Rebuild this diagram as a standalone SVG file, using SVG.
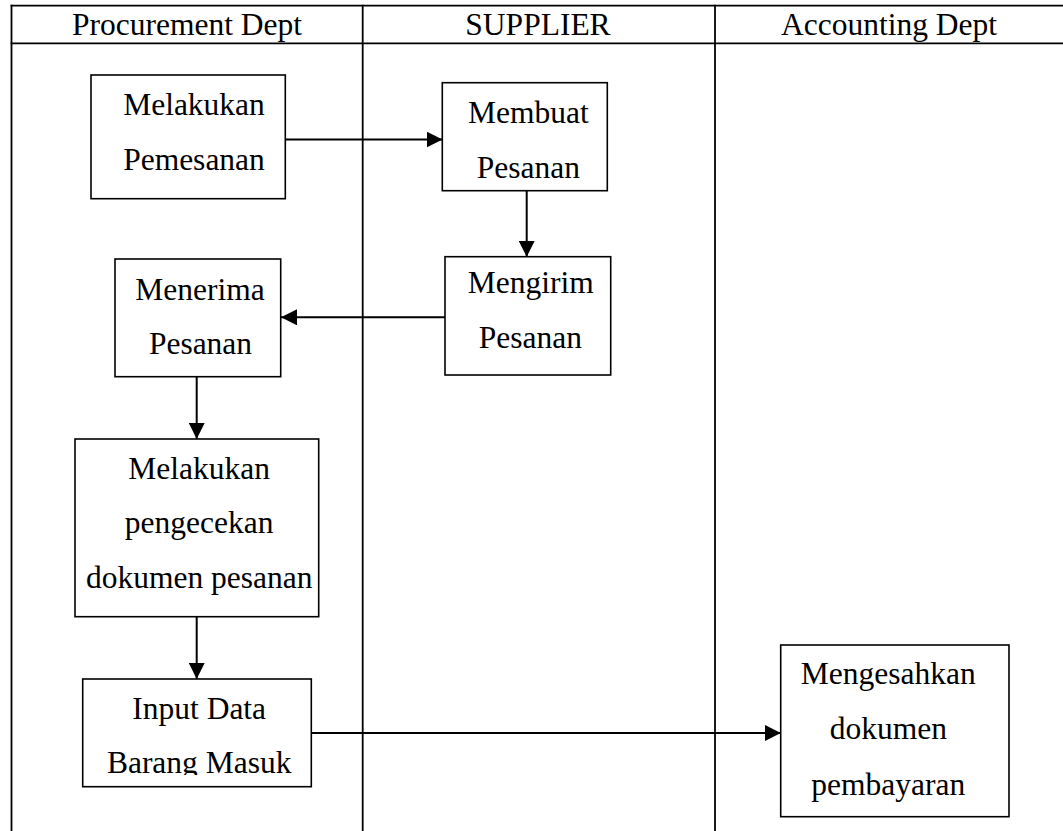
<svg xmlns="http://www.w3.org/2000/svg" width="1063" height="831" viewBox="0 0 1063 831">
  <style>
    .lane { stroke: #000; stroke-width: 1.8; fill: none; }
    .box { fill: #fff; stroke: #000; stroke-width: 1.6; }
    .conn { stroke: #000; stroke-width: 2; fill: none; }
    text { font-family: "Liberation Serif", "Times New Roman", serif; font-size: 31.5px; fill: #000; text-anchor: middle; }
  </style>
  <defs>
    <marker id="arrow" viewBox="0 0 16 16" refX="16" refY="8" markerWidth="16" markerHeight="16" markerUnits="userSpaceOnUse" orient="auto">
      <path d="M0,0 L16,8 L0,16 z" fill="#000"/>
    </marker>
    <clipPath id="clip6">
      <rect x="83" y="679" width="228" height="96"/>
    </clipPath>
  </defs>
  <rect width="1063" height="831" fill="#fff"/>

  <g id="lanes">
    <line class="lane" x1="10.6" y1="5.7" x2="1063" y2="5.7"/>
    <line class="lane" x1="10.6" y1="43.3" x2="1063" y2="43.3"/>
    <line class="lane" x1="11.5" y1="4.8" x2="11.5" y2="831"/>
    <line class="lane" x1="362.7" y1="4.8" x2="362.7" y2="831"/>
    <line class="lane" x1="715" y1="4.8" x2="715" y2="831"/>
    <text x="187" y="35">Procurement Dept</text>
    <text x="538" y="35">SUPPLIER</text>
    <text x="889" y="35">Accounting Dept</text>
  </g>

  <g id="connectors">
    <line class="conn" x1="285" y1="139.5" x2="442.5" y2="139.5" marker-end="url(#arrow)"/>
    <line class="conn" x1="526.7" y1="191" x2="526.7" y2="256.8" marker-end="url(#arrow)"/>
    <line class="conn" x1="445" y1="317.3" x2="281" y2="317.3" marker-end="url(#arrow)"/>
    <line class="conn" x1="196.7" y1="377" x2="196.7" y2="439" marker-end="url(#arrow)"/>
    <line class="conn" x1="196.7" y1="617" x2="196.7" y2="679" marker-end="url(#arrow)"/>
    <line class="conn" x1="311" y1="733" x2="780.8" y2="733" marker-end="url(#arrow)"/>
  </g>

  <g id="node-melakukan-pemesanan">
    <rect class="box" x="91" y="75" width="194.3" height="123.7"/>
    <text x="194" y="115">Melakukan</text>
    <text x="194" y="170">Pemesanan</text>
  </g>

  <g id="node-membuat-pesanan">
    <rect class="box" x="442.3" y="82.7" width="165" height="108"/>
    <text x="528.3" y="123.3">Membuat</text>
    <text x="528.3" y="178.3">Pesanan</text>
  </g>

  <g id="node-mengirim-pesanan">
    <rect class="box" x="445" y="256.7" width="165.7" height="118.3"/>
    <text x="530.8" y="293.3">Mengirim</text>
    <text x="530.3" y="348.3">Pesanan</text>
  </g>

  <g id="node-menerima-pesanan">
    <rect class="box" x="115" y="259" width="165.7" height="117.7"/>
    <text x="200" y="300">Menerima</text>
    <text x="200.5" y="354">Pesanan</text>
  </g>

  <g id="node-pengecekan">
    <rect class="box" x="75" y="439" width="243.7" height="177.7"/>
    <text x="199.2" y="479.3">Melakukan</text>
    <text x="199.2" y="533.3">pengecekan</text>
    <text x="199.2" y="587.7">dokumen pesanan</text>
  </g>

  <g id="node-input-data">
    <rect class="box" x="82.7" y="679" width="228.6" height="107.7"/>
    <g clip-path="url(#clip6)">
      <text x="199.2" y="719.3">Input Data</text>
      <text x="199.2" y="773">Barang Masuk</text>
    </g>
  </g>

  <g id="node-mengesahkan">
    <rect class="box" x="780.7" y="645" width="228.3" height="171.7"/>
    <text x="888.3" y="684.3">Mengesahkan</text>
    <text x="888.3" y="739.3">dokumen</text>
    <text x="888.3" y="795">pembayaran</text>
  </g>
</svg>
